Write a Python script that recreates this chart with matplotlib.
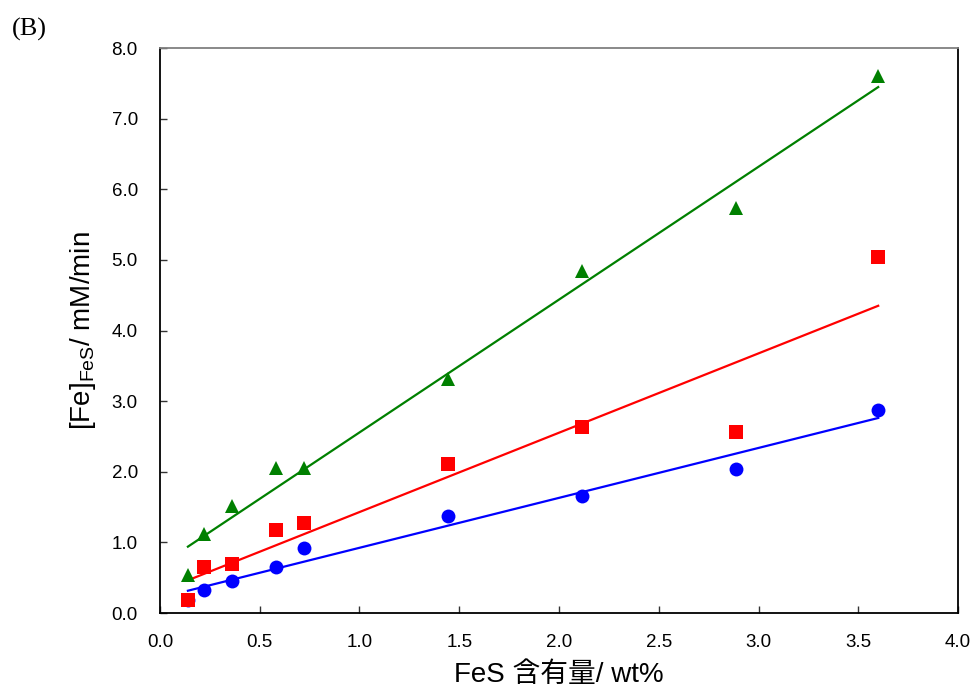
import numpy as np
import matplotlib
matplotlib.use("Agg")
import matplotlib.pyplot as plt

plt.rcParams['font.family'] = ['Liberation Sans', 'Noto Sans CJK JP', 'DejaVu Sans']
plt.rcParams['mathtext.default'] = 'regular'

# FeS content (wt%)
fes_content = [0.14, 0.22, 0.36, 0.58, 0.72, 1.445, 2.115, 2.885, 3.60]

# Fe release rate (mM/min) for three conditions
rate_circle = [0.18, 0.33, 0.45, 0.65, 0.92, 1.37, 1.66, 2.04, 2.88]
rate_square = [0.18, 0.65, 0.69, 1.18, 1.27, 2.11, 2.63, 2.56, 5.04]
rate_triangle = [0.54, 1.12, 1.52, 2.05, 2.05, 3.31, 4.84, 5.74, 7.61]

x_ticks = [0.0, 0.5, 1.0, 1.5, 2.0, 2.5, 3.0, 3.5, 4.0]
y_ticks = [0.0, 1.0, 2.0, 3.0, 4.0, 5.0, 6.0, 7.0, 8.0]

fig = plt.figure(figsize=(9.72, 6.93), dpi=100)
ax = fig.add_axes([0.1646, 0.1154, 0.8210, 0.8153])

x = np.array(fes_content)
series = [
    (rate_triangle, '^', 'green', 10),
    (rate_square, 's', 'red', 9.5),
    (rate_circle, 'o', 'blue', 10),
]
# linear fits first, then markers on top
for vals, mk, col, ms in series:
    k, b = np.polyfit(x, np.array(vals), 1)
    xs = np.array([x.min(), x.max()])
    ax.plot(xs, k * xs + b, color=col, lw=1.6, zorder=2)
for vals, mk, col, ms in [series[2], series[1], series[0]]:
    ax.plot(x, vals, linestyle='none', marker=mk, color=col, ms=ms,
            markeredgewidth=0, zorder=3)

ax.set_xlim(0, 4.0)
ax.set_ylim(0, 8.0)
ax.set_xticks(x_ticks)
ax.set_yticks(y_ticks)
ax.set_xticklabels([f"{v:.1f}" for v in x_ticks])
ax.set_yticklabels([f"{v:.1f}" for v in y_ticks])
ax.tick_params(direction='in', length=5, width=1, labelsize=13.5, color='#333333')
ax.tick_params(axis='x', pad=15)
ax.tick_params(axis='y', pad=16)

for side in ['left', 'bottom', 'right']:
    ax.spines[side].set_color('black')
    ax.spines[side].set_linewidth(1.3)
ax.spines['top'].set_color('#808080')
ax.spines['top'].set_linewidth(1.3)

ax.set_xlabel('FeS 含有量/ wt%', fontsize=20, labelpad=8)
ax.set_ylabel('[Fe]$_{FeS}$/ mM/min', fontsize=20, labelpad=10)

fig.text(0.012, 0.957, '(B)', fontsize=19, family='Liberation Serif',
         ha='left', va='center')

fig.savefig('out.png', dpi=100)
